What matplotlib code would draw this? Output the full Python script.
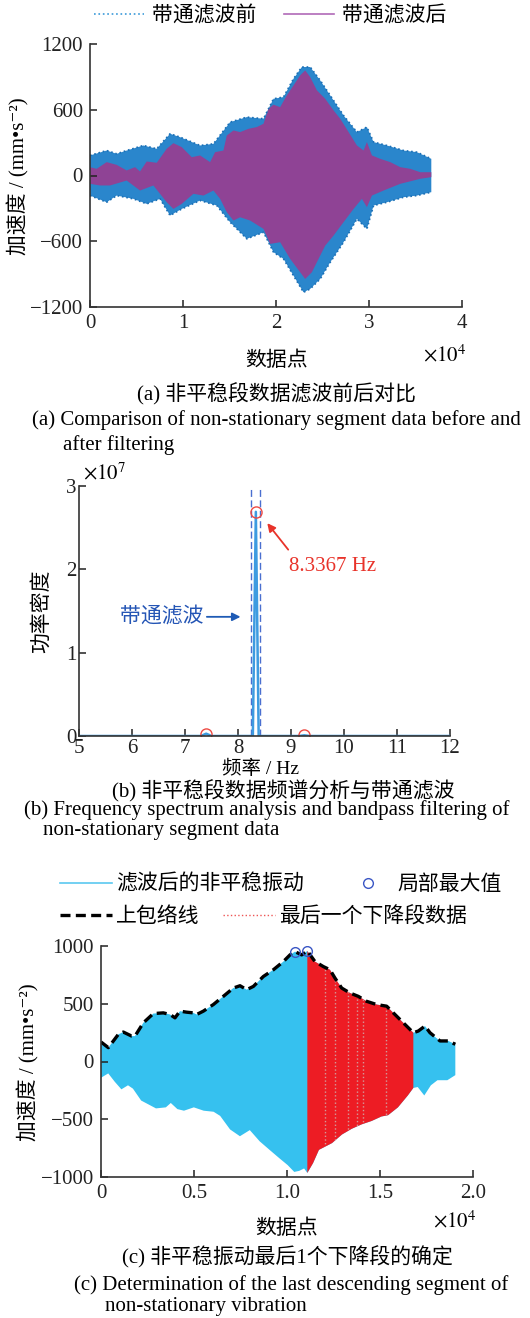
import numpy as np
import matplotlib
matplotlib.use("Agg")
import matplotlib.pyplot as plt
from matplotlib.lines import Line2D
from matplotlib.ticker import FuncFormatter

plt.rcParams["font.family"] = ["Liberation Serif", "Noto Sans CJK SC", "DejaVu Serif"]
plt.rcParams["mathtext.fontset"] = "stix"
plt.rcParams["font.size"] = 15

# (a) envelopes of the segment before / after band-pass filtering
raw_up_x = [0, 1794, 2870, 3946, 5740, 7175, 8610, 9686, 11839, 13274, 15067, 16861, 18655, 19731,
            20807, 21883, 22780, 23677, 24753, 25829, 27264, 28700, 29776, 30493, 31928, 33722, 35157, 36700]
raw_up_y = [183, 228, 198, 228, 274, 244, 381, 350, 274, 289, 487, 533, 518, 700,
            716, 883, 990, 990, 868, 731, 548, 396, 442, 305, 274, 228, 213, 152]
raw_lo_x = [0, 1794, 2870, 4663, 6098, 7533, 8610, 9865, 11839, 13633, 15067, 16861, 18655, 19731,
            20807, 21883, 22959, 23677, 24753, 25829, 27264, 28700, 29776, 30493, 31928, 33722, 35157, 36700]
raw_lo_y = [-183, -244, -183, -213, -259, -213, -365, -305, -228, -274, -426, -578, -518, -700,
            -761, -914, -1066, -1035, -944, -792, -609, -396, -487, -274, -244, -198, -183, -152]
filt_up_x = [0, 717, 1794, 2870, 3946, 4843, 5381, 6099, 7175, 8251, 8969, 9865, 10942, 11839, 12915,
             13453, 14350, 14709, 15426, 16143, 17040, 17937, 18655, 19193, 19731, 20448, 21166, 21883,
             22601, 23139, 23677, 24395, 25291, 26188, 26906, 27803, 28700, 29417, 29776, 30314, 31211,
             32287, 33363, 34439, 35515, 36700]
filt_up_y = [76, 61, 122, 97, 46, 76, 37, 128, 116, 244, 295, 259, 167, 183, 122,
             213, 228, 365, 411, 396, 426, 442, 472, 609, 646, 624, 731, 822,
             914, 959, 898, 777, 700, 594, 518, 396, 274, 228, 305, 183, 152,
             122, 76, 61, 30, 30]
filt_lo_x = [0, 1076, 2152, 3946, 5381, 6816, 8251, 8969, 9865, 11121, 12197, 13273, 13991, 14709,
             15426, 16143, 17220, 18655, 19372, 20448, 21525, 22601, 23139, 23856, 24574, 25291, 26188,
             27264, 28341, 29238, 29776, 30314, 31570, 33363, 35515, 36700]
filt_lo_y = [-76, -91, -91, -46, -137, -91, -244, -305, -259, -167, -183, -137, -213, -335,
             -411, -381, -411, -487, -624, -609, -761, -883, -944, -883, -761, -640, -548,
             -426, -305, -213, -289, -183, -137, -76, -30, -15]

# (b) spectrum
freq_hz = [5.0, 7.30, 7.40, 7.50, 8.28, 8.3367, 8.39, 9.15, 9.25, 9.35, 12.0]
psd = [0, 0, 0.028e7, 0, 0, 2.69e7, 0, 0, 0.008e7, 0, 0]
peak_f = [7.40, 8.3367, 9.25]
peak_p = [0.028e7, 2.69e7, 0.008e7]
band_hz = [8.24, 8.42]

# (c) filtered segment: upper envelope and lower boundary
env_x = [0, 394, 932, 1200, 1649, 1828, 2276, 2814, 3351, 3710, 3978, 4247, 4605, 4964, 5143, 5502,
         6039, 6577, 7115, 7473, 7832, 8190, 8728, 9265, 9803, 10161, 10430, 10789, 11093, 11505,
         11953, 12312, 12581, 12939, 13387, 13835, 14283, 14821, 15358, 15717, 16254, 16792, 17061,
         17419, 17688, 18226, 18674, 19050]
env_y = [169, 120, 235, 255, 220, 220, 335, 415, 421, 407, 378, 436, 427, 421, 407, 436,
         493, 564, 636, 656, 622, 650, 736, 794, 865, 923, 951, 923, 957, 865,
         822, 794, 722, 636, 593, 564, 521, 493, 479, 421, 335, 249, 264,
         307, 249, 178, 178, 149]
low_x = [0, 389, 743, 1097, 1451, 1717, 2159, 2956, 3487, 3752, 4106, 4460, 4991, 5522, 6053, 6407,
         6938, 7469, 8000, 8531, 9062, 9593, 10036, 10390, 10655, 10920, 11093, 11400, 11717, 12425,
         12956, 13487, 14018, 14549, 15080, 15434, 15965, 16496, 16792, 17027, 17381, 17735, 18089,
         18620, 19050]
low_y = [-141, -103, -176, -241, -206, -235, -338, -406, -397, -359, -412, -426, -397, -426, -435, -471,
         -588, -647, -594, -691, -765, -838, -897, -956, -947, -926, -965, -880, -765, -706,
         -632, -582, -544, -515, -476, -465, -397, -294, -229, -221, -294, -206, -162,
         -162, -118]
max_x = [10430, 11093]
max_y = [951, 957]
seg_start, seg_end = 11093, 16792
seg_lines = [12043, 12581, 13297, 13745, 14099, 15323]

W, H = 530, 1318
FS = 15
fig = plt.figure(figsize=(W / 100, H / 100), dpi=100)

def box(l, t, r, b):
    return [l / W, 1 - b / H, (r - l) / W, (b - t) / H]

def style(ax, pad=5):
    for s in ("top", "right"):
        ax.spines[s].set_visible(False)
    for s in ("left", "bottom"):
        ax.spines[s].set_color("#333333")
        ax.spines[s].set_linewidth(1.2)
    ax.tick_params(direction="in", length=5, width=1.1, colors="#222222", labelsize=FS, pad=pad)

def minus(v, _):
    return f"{v:g}".replace("-", "\u2212")

# ---------------- (a)
ax = fig.add_axes(box(90, 44, 462, 307))
style(ax)
ax.fill(np.r_[raw_up_x, raw_lo_x[::-1]], np.r_[raw_up_y, raw_lo_y[::-1]], color="#2a86cc", lw=0)
ax.plot(raw_up_x, raw_up_y, ":", color="#1b6fb5", lw=1.2)
ax.plot(raw_lo_x, raw_lo_y, ":", color="#1b6fb5", lw=1.2)
ax.fill(np.r_[filt_up_x, filt_lo_x[::-1]], np.r_[filt_up_y, filt_lo_y[::-1]], color="#8f4395", lw=0)
ax.set_xlim(0, 40000)
ax.set_ylim(-1200, 1200)
ax.set_xticks([0, 10000, 20000, 30000, 40000])
ax.xaxis.set_major_formatter(FuncFormatter(lambda v, _: f"{v / 1e4:g}"))
ax.set_yticks([-1200, -600, 0, 600, 1200])
ax.yaxis.set_major_formatter(FuncFormatter(minus))
fig.text(18 / W, 1 - 176 / H, "加速度 / (mm•s⁻²)", rotation=90, ha="center", va="center", fontsize=FS)
fig.text(277 / W, 1 - 361 / H, "数据点", ha="center", va="center", fontsize=FS)
fig.text(423 / W, 1 - 356 / H, r"$\times10^{4}$", ha="left", va="center", fontsize=FS)
fig.legend(handles=[Line2D([], [], ls=":", color="#3a9ad9", lw=1.2),
                    Line2D([], [], color="#b06ab8", lw=1.2)],
           labels=["带通滤波前", "带通滤波后"], loc="center left", bbox_to_anchor=(94 / W, 1 - 16 / H),
           ncol=2, frameon=False, handlelength=2.4, handletextpad=0.4, columnspacing=1.3,
           borderpad=0, borderaxespad=0, fontsize=FS)
fig.text(276 / W, 1 - 394 / H, "(a) 非平稳段数据滤波前后对比", ha="center", va="center", fontsize=FS)
fig.text(32 / W, 1 - 420 / H, "(a) Comparison of non-stationary segment data before and",
         ha="left", va="center", fontsize=FS)
fig.text(63 / W, 1 - 445 / H, "after filtering", ha="left", va="center", fontsize=FS)

# ---------------- (b)
ax = fig.add_axes(box(79, 486, 450, 736))
style(ax, pad=2)
for f in band_hz:
    ax.axvline(f, ls=(0, (5, 2.5)), color="#4a6fd0", lw=1.0)
ax.plot(freq_hz, psd, color="#3d9be0", lw=1.8)
ax.plot(peak_f, peak_p, "o", mfc="none", mec="#ee4a43", ms=8, mew=1.0)
ax.set_xlim(5, 12)
ax.set_ylim(0, 3e7)
ax.set_xticks(range(5, 13))
ax.set_yticks([0, 1e7, 2e7, 3e7])
ax.yaxis.set_major_formatter(FuncFormatter(lambda v, _: f"{v / 1e7:g}"))
ax.annotate("", xy=(8.52, 2.58e7), xytext=(8.98, 2.21e7),
            arrowprops=dict(arrowstyle="-|>", color="#e8332a", lw=1.3, mutation_scale=12))
ax.text(8.97, 2.03e7, "8.3367 Hz", color="#e8332a", ha="left", va="center", fontsize=FS)
ax.annotate("", xy=(8.10, 1.43e7), xytext=(7.36, 1.43e7),
            arrowprops=dict(arrowstyle="-|>", color="#1f5bb5", lw=1.3, mutation_scale=12))
ax.text(7.34, 1.43e7, "带通滤波", color="#2455b5", ha="right", va="center", fontsize=FS)
fig.text(83 / W, 1 - 474 / H, r"$\times10^{7}$", ha="left", va="center", fontsize=FS)
fig.text(42 / W, 1 - 611 / H, "功率密度", rotation=90, ha="center", va="center", fontsize=FS)
fig.text(261 / W, 1 - 769 / H, "频率 / Hz", ha="center", va="center", fontsize=14)
fig.text(283 / W, 1 - 791 / H, "(b) 非平稳段数据频谱分析与带通滤波", ha="center", va="center", fontsize=FS)
fig.text(24 / W, 1 - 810 / H, "(b) Frequency spectrum analysis and bandpass filtering of",
         ha="left", va="center", fontsize=FS)
fig.text(43 / W, 1 - 831 / H, "non-stationary segment data", ha="left", va="center", fontsize=FS)

# ---------------- (c)
ax = fig.add_axes(box(101, 946, 473, 1177))
style(ax)
ax.fill(np.r_[env_x, low_x[::-1]], np.r_[env_y, low_y[::-1]], color="#36c1ef", lw=0)
ex, ey, lx, ly = map(np.asarray, (env_x, env_y, low_x, low_y))
mu = (ex >= seg_start) & (ex <= seg_end)
ml = (lx >= seg_start) & (lx <= seg_end)
red = ax.fill(np.r_[ex[mu], lx[ml][::-1]], np.r_[ey[mu], ly[ml][::-1]], color="#ed1c24", lw=0)[0]
vl = ax.vlines(seg_lines, -1000, 1000, colors="#d49a9a", linestyles=":", lw=1.0)
vl.set_clip_path(red)
ax.plot(env_x, env_y, color="black", lw=2.4, ls=(0, (3, 1.6)))
ax.plot(max_x, max_y, "o", mfc="none", mec="#3a56c4", ms=7, mew=1.0)
ax.set_xlim(0, 20000)
ax.set_ylim(-1000, 1000)
ax.set_xticks([0, 5000, 10000, 15000, 20000])
ax.xaxis.set_major_formatter(FuncFormatter(lambda v, _: "0" if v == 0 else f"{v / 1e4:.1f}"))
ax.set_yticks([-1000, -500, 0, 500, 1000])
ax.yaxis.set_major_formatter(FuncFormatter(minus))
fig.text(28 / W, 1 - 1062 / H, "加速度 / (mm•s⁻²)", rotation=90, ha="center", va="center", fontsize=FS)
fig.text(287 / W, 1 - 1229 / H, "数据点", ha="center", va="center", fontsize=FS)
fig.text(433 / W, 1 - 1222 / H, r"$\times10^{4}$", ha="left", va="center", fontsize=FS)
fig.legend(handles=[Line2D([], [], color="#5ac8f0", lw=1.2),
                    Line2D([], [], ls="none", marker="o", mfc="none", mec="#3a56c4", ms=7)],
           labels=["滤波后的非平稳振动", "局部最大值"], loc="center left",
           bbox_to_anchor=(60 / W, 1 - 885 / H), ncol=2, frameon=False, handlelength=2.5,
           handletextpad=0.2, columnspacing=1.8, borderpad=0, borderaxespad=0, fontsize=FS)
fig.legend(handles=[Line2D([], [], color="black", lw=2.4, ls=(0, (3, 1.6))),
                    Line2D([], [], color="#ee5555", lw=1.0, ls=":")],
           labels=["上包络线", "最后一个下降段数据"], loc="center left",
           bbox_to_anchor=(60 / W, 1 - 917 / H), ncol=2, frameon=False, handlelength=2.5,
           handletextpad=0.2, columnspacing=1.1, borderpad=0, borderaxespad=0, fontsize=FS)
fig.text(287 / W, 1 - 1257 / H, "(c) 非平稳振动最后1个下降段的确定", ha="center", va="center", fontsize=FS)
fig.text(74 / W, 1 - 1285 / H, "(c) Determination of the last descending segment of",
         ha="left", va="center", fontsize=FS)
fig.text(105 / W, 1 - 1307 / H, "non-stationary vibration", ha="left", va="center", fontsize=FS)

fig.savefig("out.png", dpi=100)
